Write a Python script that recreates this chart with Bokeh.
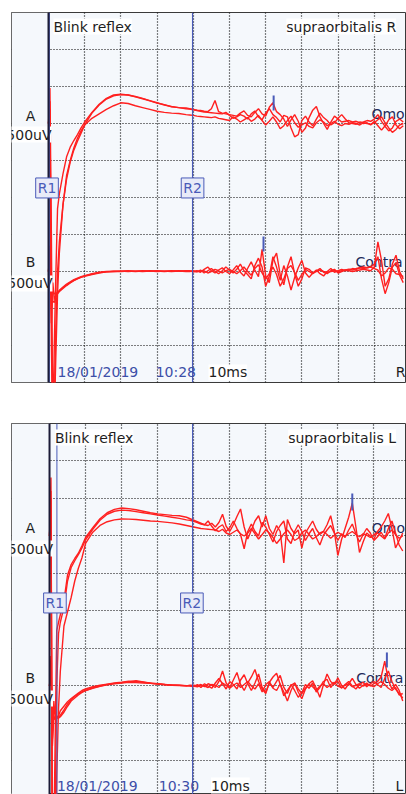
from bokeh.plotting import figure
from bokeh.layouts import column
from bokeh.models import Range1d, FixedTicker, Span, BoxAnnotation, Label
from bokeh.core.properties import value
from bokeh.embed import file_html
from bokeh.resources import INLINE

# ---------------- data (time in ms, amplitude in uV) ----------------
T = [0, 0.4, 0.8, 1.2, 1.6, 2, 2.5, 3, 4, 5, 6, 7, 8, 9, 10, 12, 14, 16, 18, 20, 22, 24, 26, 28, 30, 32, 34, 36, 38,
     39, 40, 41, 42, 43, 44, 45, 46, 47, 48, 49, 50, 51, 52, 53, 54, 55, 56, 57, 58, 59, 60, 61, 62, 63, 64, 65, 66,
     67, 68, 69, 70, 71, 72, 73, 74, 75, 76, 77, 78, 79, 80, 81, 82, 83, 84, 85, 86, 87, 88, 89, 90, 91, 92, 93, 94,
     95, 96, 97, 98]

GRID_T = [10, 20, 30, 40, 50, 60, 70, 80, 90]
GRID_UV = [1000, 500, 0, -500, -1000, -1500, -2000, -2500, -3000]

# supraorbitalis R, channel A (Omo)
R_A1 = [0, 480, -1500, -4200, -3000, -2100, -1150, -950, -680, -450, -320, -230, -150, -60, 20, 150, 260, 340, 385,
        395, 385, 360, 335, 305, 275, 255, 225, 215, 210,
        200, 190, 180, 175, 165, 160, 200, 310, 160, 140,
        130, 120, 110, 100, 140, 170, 110, 90, 150, 200,
        130, 100, 220, 280, 160, 120, 60, -40, 50, 120,
        30, -120, -60, 80, 180, 230, 90, 0, -80, 20,
        100, 60, 20, 30, 40, 20, 30, 10, 20, 40,
        30, 60, 120, 30, -40, -100, -60, 30, 60, 20]
R_A2 = [0, 300, -2500, -4200, -3800, -2800, -2000, -1600, -1100, -700, -500, -330, -200, -100, -20, 140, 250, 330, 375,
        390, 385, 365, 340, 310, 280, 250, 230, 215, 200,
        195, 185, 175, 165, 155, 150, 145, 140, 135, 130,
        150, 110, 70, 90, 120, 100, 60, 130, 170, 90,
        50, 140, 200, 120, 80, 20, 110, 90, -60, -180,
        -150, 40, 100, 20, -30, 60, 140, 80, 40, -20,
        10, 70, 120, 60, 10, 0, -10, 20, 0, 10,
        -20, 30, -30, -90, -30, 50, 90, -20, -70, -30]
R_A3 = [0, 200, -3000, -4200, -4000, -3200, -2300, -1750, -1100, -750, -520, -360, -240, -130, -20, 70, 130, 190, 240,
        280, 270, 240, 215, 190, 165, 150, 140, 135, 120,
        115, 110, 100, 95, 90, 85, 80, 90, 70, 60,
        50, 40, 90, 60, 20, 50, 80, 30, 60, 110,
        40, -20, 30, 90, 20, -70, -30, 40, 100, 10,
        -50, -20, 10, -40, -60, 10, 50, 20, -30, 0,
        30, -10, -30, 0, -10, 10, 0, -20, 10, 0,
        -10, 10, 50, 90, 10, -60, -120, -80, -20, 0]
# supraorbitalis R, channel B (Contra)
R_B1 = [0, 250, -500, -150, -380, -320, -290, -265, -220, -180, -150, -120, -95, -75, -60, -35, -15, -5, 0,
        0, 5, 0, 5, 10, 5, 0, 5, 10, 5,
        5, 0, 10, -10, 30, 60, 10, -20, 20, 50,
        0, -30, 20, 80, -10, -60, 40, 130, 20, -70,
        300, -60, -150, 150, 250, -40, -180, 60, 200, -30,
        -200, -100, 50, 30, -20, 10, 40, -10, -30, 10,
        30, -20, 0, 20, 10, 0, 10, 20, 30, 20,
        10, 60, 400, 150, -200, -100, 100, 220, 0, -100]
R_B2 = [0, 150, -300, -400, -420, -350, -300, -270, -230, -190, -155, -125, -100, -80, -65, -40, -20, -5, 0,
        5, 0, 5, 10, 5, 0, 5, 10, 5, 0,
        0, 10, -5, 20, -20, 10, 40, 0, -30, 10,
        60, 20, -20, 30, 100, 10, -40, -100, 80, 180,
        60, -200, -60, 200, 60, -120, 80, -60, -250, -80,
        50, 150, -20, -80, -20, 20, -30, -60, 0, 40,
        -10, 10, 30, 10, 20, 40, 30, 50, 40, 50,
        60, 100, 200, -100, -300, -150, 60, 120, -50, -150]
R_B3 = [0, 350, -700, -250, -300, -300, -280, -255, -210, -170, -140, -110, -90, -70, -55, -30, -10, 0, 5,
        5, 10, 5, 0, 5, 10, 5, 0, 5, 10,
        10, -5, 0, 5, 10, -20, 0, 30, 10, -20,
        10, 30, 0, -30, 10, 60, 0, -50, 40, 90,
        -20, -100, -30, 60, -40, -200, -100, 40, 80, -10,
        -120, -40, 30, 0, -30, 0, 20, 0, -10, 0,
        10, 0, 10, 20, 30, 20, 40, 50, 60, 50,
        60, 40, 20, -60, -20, 50, 30, -30, -40, -70]

# supraorbitalis L, channel A (Omo)
L_A1 = [0, 780, -4500, -4000, -2600, -1260, -1150, -1050, -860, -520, -380, -300, -230, -130, -20, 110, 230, 310, 355,
        373, 365, 350, 330, 310, 295, 285, 275, 270, 250,
        230, 210, 190, 170, 150, 140, 170, 120, 180, 290,
        130, 60, 150, 260, 360, 120, -40, 80, 200, 270,
        120, 270, 100, 20, 140, 60, -360, 220, 100, 30,
        80, -160, 40, 120, 200, 90, 20, 60, 150, 270,
        60, -260, -50, 100, 250, 440, 120, -220, -80, 40,
        0, -40, 60, 120, 200, 300, 100, -160, -60, 40]
L_A2 = [0, 600, -4500, -4500, -3500, -2000, -1300, -1150, -950, -600, -420, -330, -250, -160, -50, 90, 210, 290, 330,
        345, 340, 325, 310, 295, 280, 265, 250, 235, 215,
        210, 195, 180, 160, 150, 200, 130, 70, 120, 150,
        60, 110, 200, 100, 20, -170, 60, 160, 60, 0,
        180, 120, 20, -80, 60, 140, 200, -40, -100, 60,
        150, 60, -60, 30, 100, -20, -120, 10, 80, 140,
        40, -60, 30, -20, 80, 160, 30, -80, 20, 100,
        40, -60, -10, 50, -30, 100, 200, 40, -120, -200]
L_A3 = [0, 500, -4500, -4500, -4500, -3200, -2300, -1800, -1200, -1010, -820, -600, -430, -290, -100, 50, 140, 190, 215,
        227, 225, 220, 210, 200, 195, 185, 175, 160, 140,
        130, 120, 110, 100, 95, 90, 85, 80, 60, 90,
        40, 20, 50, 80, 30, 0, 40, 100, 30, -40,
        20, 80, 40, -20, -100, -40, 30, 80, 20, -60,
        -30, 40, 80, 20, -40, -10, 40, 60, 20, -30,
        10, 50, 20, 0, 30, 60, 20, -10, 30, 10,
        -20, 20, 40, 0, -40, 40, 80, 20, -30, 0]
# supraorbitalis L, channel B (Contra)
L_B1 = [0, 400, -700, -200, -450, -420, -400, -330, -270, -210, -167, -130, -95, -60, -40, -10, 10, 25, 40,
        50, 65, 60, 50, 40, 30, 20, 15, 10, 5,
        5, 10, 0, 20, -10, 30, 10, -20, 60, 200,
        40, -20, 80, 180, 20, -60, 40, 120, 220, 60,
        -40, -100, 50, 120, 170, 20, -80, -200, -60, 40,
        -80, -170, -40, 30, 70, -30, -150, 20, 160, 60,
        20, 110, 10, -40, 30, 100, 20, -30, 10, 40,
        0, 30, 60, 120, 330, 80, -40, 20, -60, -200]
L_B2 = [0, 300, -800, -400, -450, -430, -420, -390, -320, -240, -180, -140, -105, -80, -60, -25, 0, 20, 35,
        45, 55, 70, 55, 35, 30, 20, 10, 5, 5,
        0, -10, 20, -20, 30, 0, -30, 40, 100, 30,
        -40, 60, 20, -40, 80, 150, 30, -60, 40, 160,
        -20, -80, 40, -20, 60, 140, -20, -100, 20, -60,
        -150, -90, 20, -30, 40, -80, -20, 60, 90, -20,
        40, 60, -30, 20, 60, 0, -40, 20, 50, -10,
        30, 60, 20, -20, 100, 200, 60, -40, -100, -160]
L_B3 = [0, 200, -600, -300, -350, -400, -430, -410, -350, -270, -200, -160, -120, -85, -60, -30, -5, 15, 30,
        40, 50, 45, 40, 35, 25, 15, 10, 10, 0,
        10, 0, -10, 10, 0, -20, 20, 10, -20, 40,
        10, -30, 10, 40, -20, 20, 60, 0, -40, 30,
        -80, 20, 60, -30, -60, 30, -130, -60, 10, 40,
        -40, -100, -30, 20, -10, -60, 0, 30, -20, 20,
        50, 0, -20, 10, 30, -10, 10, 30, 0, 20,
        10, -10, 30, 60, 20, -30, -60, -20, -120, -100]

# peak markers: (time, low, high) relative to channel baseline
R_PEAK_A = (62.2, 175, 378)
R_PEAK_B = (59.4, 270, 472)
L_PEAK_A = (84.0, 340, 567)
L_PEAK_B = (93.6, 247, 447)

# ---------------- styling ----------------
BG = "#f5f8fc"
RED = "#ff2020"
BLUE = "#4a5bb8"
DARK = "#1c1c38"
TXT = "#1e1e1e"
DATE = "#3d4fa8"
NAVY = "#1f2b5c"
FONT = "DejaVu Sans"
B_OFFSET = -2000


def add_label(p, x, y, text, color=TXT, align="left", bg=None, size="14px", border=None, pad=0):
    lab = Label(x=x, y=y, text=text, text_align=align, text_baseline="middle", text_color=color,
                text_font=FONT, text_font_size=size)
    if bg is not None:
        lab.background_fill_color = bg
        lab.background_fill_alpha = 1.0
    if border is not None:
        lab.border_line_color = border
        lab.border_line_width = 1
    if pad:
        lab.padding = pad
    p.add_layout(lab)


def make_panel(cfg):
    p = figure(width=406, height=cfg["height"], x_range=Range1d(*cfg["xr"]), y_range=Range1d(*cfg["yr"]),
               x_axis_location=None, y_axis_location=None, toolbar_location=None, tools="",
               output_backend="svg", min_border_left=cfg["bl"], min_border_right=0,
               min_border_top=cfg["bt"], min_border_bottom=cfg["bb"],
               background_fill_color=BG, border_fill_color="white",
               outline_line_color="#3a3a3a", outline_line_width=1)
    p.xgrid.ticker = FixedTicker(ticks=GRID_T)
    p.ygrid.ticker = FixedTicker(ticks=GRID_UV)
    p.grid.grid_line_color = "black"
    p.grid.grid_line_dash = "1 2"
    p.grid.grid_line_alpha = 1.0
    p.grid.grid_line_width = 1.2

    # left gutter (labels area) hides the grid
    p.add_layout(BoxAnnotation(right=0, fill_color=BG, fill_alpha=1.0, line_alpha=0, level="underlay"))

    # cursors
    p.add_layout(Span(location=cfg["r1"], dimension="height", line_color=BLUE, line_width=1))
    p.add_layout(Span(location=cfg["r2"], dimension="height", line_color=BLUE, line_width=1.2))
    p.add_layout(Span(location=0, dimension="height", line_color=DARK, line_width=2))

    # channel names beneath the traces
    p.text(x=[cfg["omo"][0]], y=[cfg["omo"][1]], text=["Omo"], text_color=NAVY, text_font=value(FONT),
           text_font_size="14px", text_baseline="middle", text_align="left")
    p.text(x=[cfg["contra"][0]], y=[cfg["contra"][1]], text=["Contra"], text_color=NAVY,
           text_font=value(FONT), text_font_size="14px", text_baseline="middle", text_align="left")

    for tr in cfg["A"]:
        p.line(T, tr, line_color=RED, line_width=1.4)
    for tr in cfg["B"]:
        p.line(T, [v + B_OFFSET for v in tr], line_color=RED, line_width=1.4)

    pa, pb = cfg["peakA"], cfg["peakB"]
    p.segment(x0=[pa[0], pb[0]], y0=[pa[1], pb[1] + B_OFFSET], x1=[pa[0], pb[0]], y1=[pa[2], pb[2] + B_OFFSET],
              line_color=BLUE, line_width=2)

    # gain labels (clipped by the frame, as in the original)
    for (x, y) in cfg["gain"]:
        p.text(x=[x], y=[y], text=["500uV"], text_color=TXT, text_font=value(FONT), text_font_size="14px",
               text_baseline="middle", text_align="right", background_fill_color="white")

    lx, ty = cfg["title_pos"]
    add_label(p, lx, ty, "Blink reflex", bg="white")
    add_label(p, cfg["nerve_x"], ty, cfg["nerve"], bg="white")
    add_label(p, cfg["ab_x"], cfg["a_y"], "A", align="center")
    add_label(p, cfg["ab_x"], cfg["b_y"], "B", align="center")
    add_label(p, cfg["r1box"][0], cfg["r1box"][1], "R1", color=BLUE, align="center", bg="#e8ebf8",
              border=BLUE, size="14px", pad=2)
    add_label(p, cfg["r2box"][0], cfg["r2box"][1], "R2", color=BLUE, align="center", bg="#e8ebf8",
              border=BLUE, size="14px", pad=2)
    by = cfg["bottom_y"]
    add_label(p, cfg["date_x"], by, "18/01/2019", color=DATE)
    add_label(p, cfg["time_x"], by, cfg["time"], color=DATE)
    add_label(p, cfg["ms_x"], by, "10ms", bg="white")
    add_label(p, cfg["side_x"], by, cfg["side"])
    return p


top_cfg = dict(height=419, xr=(-10.22, 98.9), yr=(-3500, 1500), bl=11, bt=12, bb=37,
               r1=0.25, r2=39.8, A=[R_A1, R_A2, R_A3], B=[R_B1, R_B2, R_B3],
               peakA=R_PEAK_A, peakB=R_PEAK_B, omo=(89.2, 125), contra=(84.8, -1878),
               gain=[(0.83, -149), (1.1, -2162)], title_pos=(1.38, 1310), nerve_x=65.7,
               nerve="supraorbitalis R", ab_x=-4.97, a_y=108, b_y=-1878,
               r1box=(-0.41, -871), r2box=(39.8, -871), bottom_y=-3364,
               date_x=2.49, time_x=29.6, time="10:28", ms_x=44.2, side_x=95.9, side="R")

bot_cfg = dict(height=375, xr=(-10.55, 99.04), yr=(-3447, 1500), bl=6, bt=4, bb=0,
               r1=2.05, r2=39.7, A=[L_A1, L_A2, L_A3], B=[L_B1, L_B2, L_B3],
               peakA=L_PEAK_A, peakB=L_PEAK_B, omo=(89.4, 113), contra=(85.1, -1887),
               gain=[(0.96, -167), (0.96, -2167)], title_pos=(1.5, 1313), nerve_x=66.2,
               nerve="supraorbitalis L", ab_x=-5.34, a_y=100, b_y=-1887,
               r1box=(1.5, -893), r2box=(39.5, -893), bottom_y=-3327,
               date_x=2.05, time_x=30.3, time="10:30", ms_x=44.8, side_x=96.0, side="L")

p1 = make_panel(top_cfg)
p2 = make_panel(bot_cfg)
layout = column(p1, p2, spacing=0)

open("out.html", "w").write(file_html(layout, INLINE))
